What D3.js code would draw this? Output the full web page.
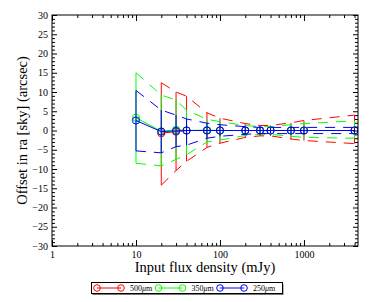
<!DOCTYPE html>
<html><head><meta charset="utf-8">
<script src="https://cdn.jsdelivr.net/npm/d3@7"></script>
<style>
html,body{margin:0;padding:0;background:#fff;}
svg{display:block;}
text{font-family:"Liberation Serif","DejaVu Serif",serif;fill:#000;}
</style></head>
<body>
<svg id="chart" width="374" height="302"></svg>
<script>
// ---- data ----
const fluxes = [10, 20, 30, 40, 70, 100, 200, 300, 400, 700, 1000, 4000];

const red500Center = [null, -0.7, -0.3, 0.0, 0.0, 0.0, 0.0, 0.0, 0.0, 0.0, 0.0, 0.0];
const red500Upper  = [null, 12.4, 10.0, 8.9, 4.6, 3.2, 1.8, 1.3, 1.3, 2.0, 2.6, 4.0];
const red500Lower  = [null, -14.2, -10.4, -8.0, -4.4, -3.3, -1.8, -1.4, -1.4, -2.2, -2.6, -3.4];

const green350Center = [3.3, -0.2, 0.2, 0.0, 0.1, 0.0, 0.0, 0.0, 0.0, 0.0, 0.0, 0.0];
const green350Upper  = [15.0, 9.2, 7.9, 5.3, 2.9, 2.3, 1.3, 1.0, 1.0, 1.5, 1.8, 2.5];
const green350Lower  = [-8.5, -9.2, -7.5, -6.3, -3.0, -2.5, -1.3, -1.0, -1.0, -1.5, -1.8, -2.0];

const blue250Center = [2.6, -0.3, -0.1, 0.0, 0.0, 0.0, 0.0, 0.0, 0.0, 0.0, 0.0, 0.0];
const blue250Upper  = [10.4, 5.3, 4.0, 3.0, 1.9, 1.5, 1.0, 0.8, 0.8, 0.8, 0.8, 0.8];
const blue250Lower  = [-5.3, -5.8, -4.2, -3.8, -2.0, -1.5, -1.0, -0.8, -0.8, -0.8, -0.8, -0.8];

const seriesNames = ["500", "350", "250"];
const seriesColors = ["#ff0000", "#00ff00", "#0000ff"];

const xMajorTicks = [1, 10, 100, 1000];
const yMajorTicks = [-30, -25, -20, -15, -10, -5, 0, 5, 10, 15, 20, 25, 30];

const xTitle = "Input flux density (mJy)";
const yTitle = "Offset in ra [sky] (arcsec)";

// ---- layout ----
const L = 52, R = 358, T = 15, B = 246;
const svg = d3.select("#chart");
const x = d3.scaleLog().domain([1, 4400]).range([L, R]);
const y = d3.scaleLinear().domain([-30, 30]).range([B, T]);

const xMinor = [];
xMajorTicks.forEach(d => { for (let k = 2; k <= 9; k++) if (d * k <= 4400) xMinor.push(d * k); });
const yMinor = d3.range(-30, 31, 1).filter(v => v % 5 !== 0);

// clip
svg.append("defs").append("clipPath").attr("id", "clip")
  .append("rect").attr("x", L).attr("y", T).attr("width", R - L).attr("height", B - T);

// series
const series = [
  {c: red500Center, u: red500Upper, l: red500Lower},
  {c: green350Center, u: green350Upper, l: green350Lower},
  {c: blue250Center, u: blue250Upper, l: blue250Lower}
].map((s, i) => ({...s, name: seriesNames[i], color: seriesColors[i]}));

const plot = svg.append("g").attr("clip-path", "url(#clip)");
series.forEach(s => {
  const g = plot.append("g");
  const pts = fluxes.map((f, i) => ({f, c: s.c[i], u: s.u[i], l: s.l[i]})).filter(p => p.c !== null);
  // error bars
  g.selectAll("line.eb").data(pts).enter().append("line")
    .attr("x1", d => x(d.f)).attr("x2", d => x(d.f))
    .attr("y1", d => y(d.l)).attr("y2", d => y(d.u))
    .attr("stroke", s.color).attr("stroke-width", 1);
  // dashed envelopes
  ["u", "l"].forEach(k => {
    g.append("path").datum(pts)
      .attr("d", d3.line().x(d => x(d.f)).y(d => y(d[k])))
      .attr("fill", "none").attr("stroke", s.color).attr("stroke-width", 1)
      .attr("stroke-dasharray", "10,8");
  });
  // center line
  g.append("path").datum(pts)
    .attr("d", d3.line().x(d => x(d.f)).y(d => y(d.c)))
    .attr("fill", "none").attr("stroke", s.color).attr("stroke-width", 1);
  g.selectAll("circle").data(pts).enter().append("circle")
    .attr("cx", d => x(d.f)).attr("cy", d => y(d.c)).attr("r", 3.6)
    .attr("fill", "none").attr("stroke", s.color).attr("stroke-width", 1);
});

// frame
svg.append("rect").attr("x", L).attr("y", T).attr("width", R - L).attr("height", B - T)
  .attr("fill", "none").attr("stroke", "#000").attr("stroke-width", 1);

function styleAxis(g) {
  g.select(".domain").remove();
  g.selectAll("line").attr("stroke", "#000");
  g.selectAll("text").attr("font-family", "Liberation Serif").attr("font-size", 10);
}
// x axes
svg.append("g").attr("transform", `translate(0,${B})`)
  .call(d3.axisBottom(x).tickValues(xMajorTicks).tickFormat(d3.format("d")).tickSizeInner(-6).tickSizeOuter(0).tickPadding(5))
  .call(styleAxis);
svg.append("g").attr("transform", `translate(0,${B})`)
  .call(d3.axisBottom(x).tickValues(xMinor).tickFormat("").tickSizeInner(-3).tickSizeOuter(0))
  .call(styleAxis);
svg.append("g").attr("transform", `translate(0,${T})`)
  .call(d3.axisTop(x).tickValues(xMajorTicks).tickFormat("").tickSizeInner(-6).tickSizeOuter(0))
  .call(styleAxis);
svg.append("g").attr("transform", `translate(0,${T})`)
  .call(d3.axisTop(x).tickValues(xMinor).tickFormat("").tickSizeInner(-3).tickSizeOuter(0))
  .call(styleAxis);
// y axes
svg.append("g").attr("transform", `translate(${L},0)`)
  .call(d3.axisLeft(y).tickValues(yMajorTicks).tickFormat(d3.format("d")).tickSizeInner(-5).tickSizeOuter(0).tickPadding(4))
  .call(styleAxis);
svg.append("g").attr("transform", `translate(${L},0)`)
  .call(d3.axisLeft(y).tickValues(yMinor).tickFormat("").tickSizeInner(-3).tickSizeOuter(0))
  .call(styleAxis);
svg.append("g").attr("transform", `translate(${R},0)`)
  .call(d3.axisRight(y).tickValues(yMajorTicks).tickFormat("").tickSizeInner(-5).tickSizeOuter(0))
  .call(styleAxis);
svg.append("g").attr("transform", `translate(${R},0)`)
  .call(d3.axisRight(y).tickValues(yMinor).tickFormat("").tickSizeInner(-3).tickSizeOuter(0))
  .call(styleAxis);

// titles
svg.append("text").attr("x", (L + R) / 2).attr("y", 272).attr("text-anchor", "middle")
  .attr("font-size", 14.5).text(xTitle);
svg.append("text").attr("transform", `translate(27,${(T + B) / 2}) rotate(-90)`)
  .attr("text-anchor", "middle").attr("font-size", 14.5).text(yTitle);

// legend
const lg = svg.append("g");
lg.append("rect").attr("x", 92.5).attr("y", 284).attr("width", 191).attr("height", 11).attr("fill", "#777");
lg.append("rect").attr("x", 91.5).attr("y", 282.5).attr("width", 191).attr("height", 11)
  .attr("fill", "#fff").attr("stroke", "#000").attr("stroke-width", 1);
const legX = [97, 158.5, 220];
series.forEach((s, i) => {
  const x0 = legX[i], x1 = x0 + 24, yy = 288;
  lg.append("line").attr("x1", x0).attr("x2", x1).attr("y1", yy).attr("y2", yy).attr("stroke", s.color);
  [x0, x1].forEach(cx => lg.append("circle").attr("cx", cx).attr("cy", yy).attr("r", 3.3)
    .attr("fill", "none").attr("stroke", s.color));
  const t = lg.append("text").attr("x", x1 + 9).attr("y", yy + 3).attr("font-size", 8);
  t.append("tspan").text(s.name);
  t.append("tspan").attr("font-style", "italic").text("\u03bc");
  t.append("tspan").text("m");
});
</script>
</body></html>
